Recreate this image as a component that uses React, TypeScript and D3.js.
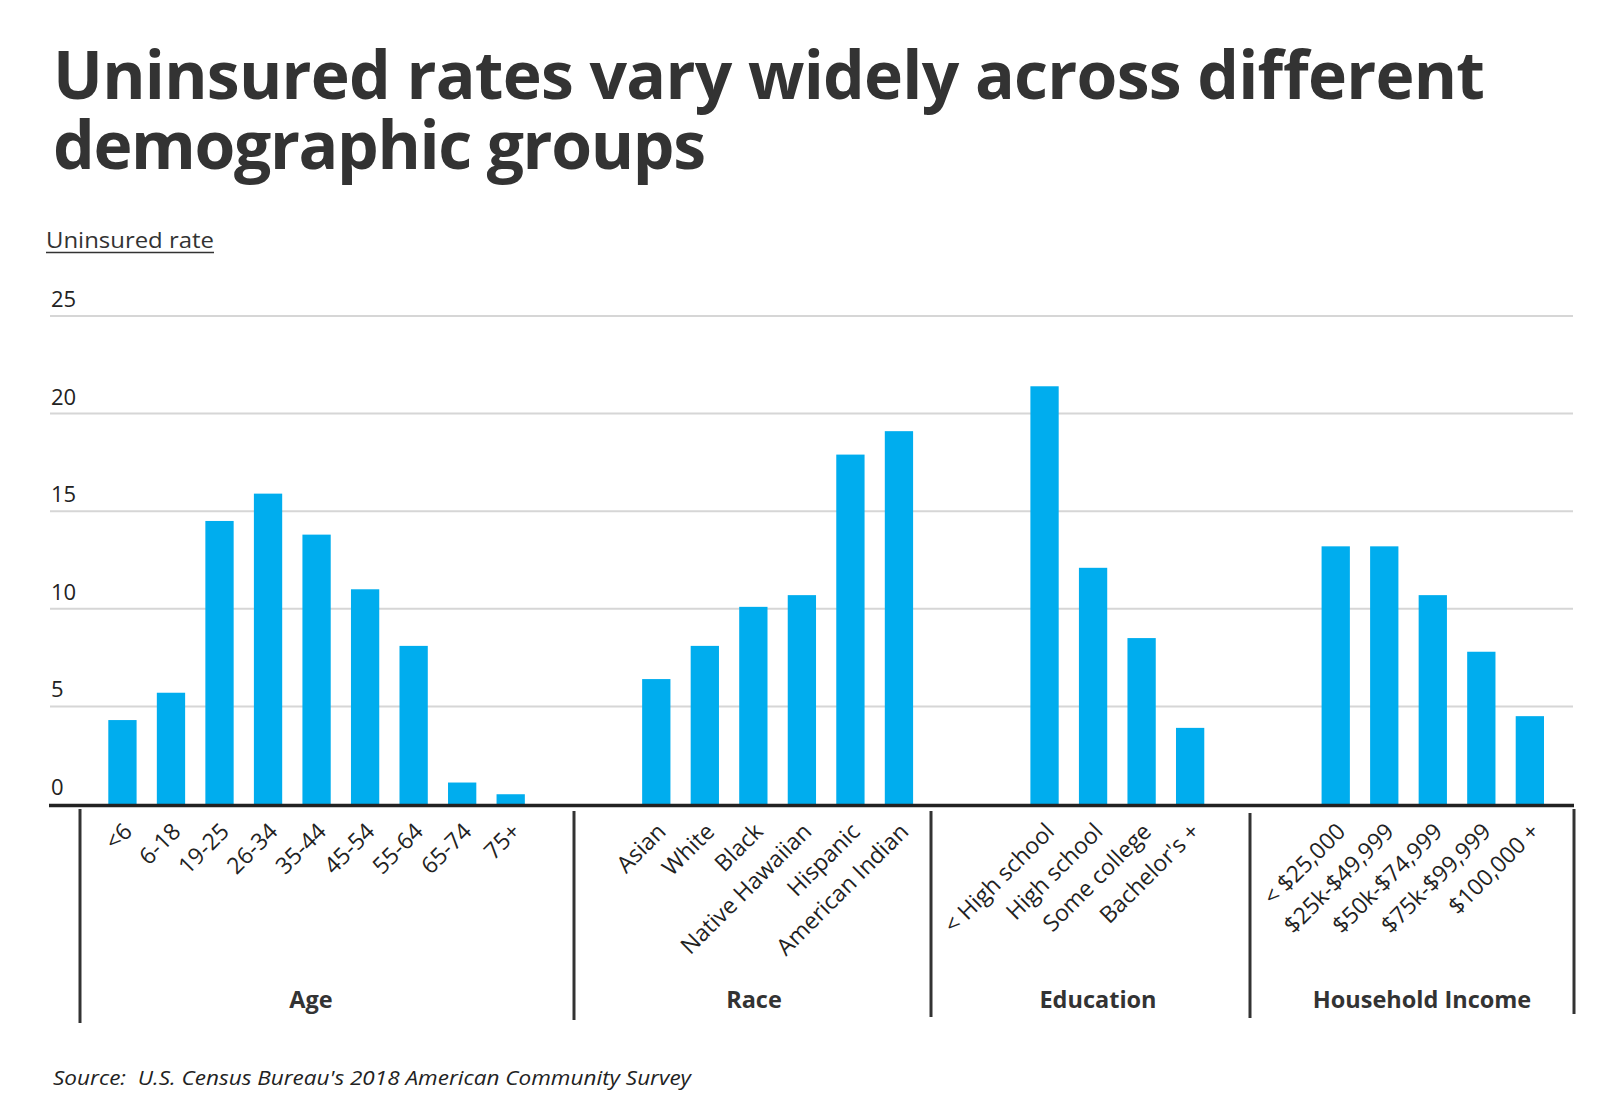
import React from "react";
import * as d3 from "d3";

// ---------- data ----------
const ageCats = ["<6", "6-18", "19-25", "26-34", "35-44", "45-54", "55-64", "65-74", "75+"];
const ageValues = [4.3, 5.7, 14.5, 15.9, 13.8, 11.0, 8.1, 1.1, 0.5];
const raceCats = ["Asian", "White", "Black", "Native Hawaiian", "Hispanic", "American Indian"];
const raceValues = [6.4, 8.1, 10.1, 10.7, 17.9, 19.1];
const eduCats = ["< High school", "High school", "Some college", "Bachelor's +"];
const eduValues = [21.4, 12.1, 8.5, 3.9];
const incomeCats = ["< $25,000", "$25k-$49,999", "$50k-$74,999", "$75k-$99,999", "$100,000 +"];
const incomeValues = [13.2, 13.2, 10.7, 7.8, 4.5];
const groupNames = ["Age", "Race", "Education", "Household Income"];
const yTicks = [0, 5, 10, 15, 20, 25];

const titleLines = ["Uninsured rates vary widely across different", "demographic groups"];
const yAxisTitle = "Uninsured rate";
const sourceText = "Source:  U.S. Census Bureau's 2018 American Community Survey";

// ---------- layout ----------
const W = 1600;
const H = 1117;
const BAR_COLOR = "#00ADEE";
const TEXT = "#333333";
const FONT = "'Open Sans', 'Noto Sans', sans-serif";
const GAP = 2; // empty slots between groups
const separatorX = [80, 574, 931, 1250, 1574];
const separatorY = [
  [809, 1023],
  [811, 1020],
  [811, 1017],
  [813, 1018],
  [809, 1014],
];
const groupLabelX = [311, 754, 1098, 1422];

type Bar = { key: string; label: string; value: number };

export default function App() {
  const groups = [
    { cats: ageCats, vals: ageValues },
    { cats: raceCats, vals: raceValues },
    { cats: eduCats, vals: eduValues },
    { cats: incomeCats, vals: incomeValues },
  ];
  const slots: string[] = [];
  const bars: Bar[] = [];
  groups.forEach((g, gi) => {
    if (gi > 0) for (let k = 0; k < GAP; k++) slots.push(`gap-${gi}-${k}`);
    g.cats.forEach((c, i) => {
      const key = `${gi}-${c}`;
      slots.push(key);
      bars.push({ key, label: c, value: g.vals[i] });
    });
  });

  const x = d3.scaleBand<string>().domain(slots).range([108.3, 1544]).paddingInner(0.417).paddingOuter(0);
  const y = d3.scaleLinear().domain([0, 25]).range([804, 316]);
  const bw = x.bandwidth();

  return (
    <div style={{ position: "absolute", left: 0, top: 0 }}>
      <svg width={W} height={H} viewBox={`0 0 ${W} ${H}`} style={{ display: "block", background: "#fff" }}>
        {/* title */}
        <text x={53} y={99} fontFamily={FONT} fontWeight={700} fontSize={66} fill={TEXT} textLength={1432} lengthAdjust="spacing">
          {titleLines[0]}
        </text>
        <text x={53} y={169} fontFamily={FONT} fontWeight={700} fontSize={66} fill={TEXT} textLength={653} lengthAdjust="spacing">
          {titleLines[1]}
        </text>

        {/* y axis title */}
        <text x={46} y={248} fontFamily={FONT} fontWeight={400} fontSize={22.5} fill={TEXT} textLength={168} lengthAdjust="spacingAndGlyphs">
          {yAxisTitle}
        </text>
        <line x1={46} x2={214} y1={252.5} y2={252.5} stroke={TEXT} strokeWidth={1.6} />

        {/* gridlines + tick labels */}
        {yTicks.map((t) => (
          <g key={t}>
            {t > 0 && <line x1={50} x2={1573} y1={y(t)} y2={y(t)} stroke="#d6d6d6" strokeWidth={2} />}
            <text x={51} y={y(t) - 9} fontFamily={FONT} fontSize={22} fill="#222">
              {t}
            </text>
          </g>
        ))}

        {/* bars */}
        {bars.map((b) => (
          <rect key={b.key} x={x(b.key)} y={y(b.value)} width={bw} height={y(0) - y(b.value)} fill={BAR_COLOR} />
        ))}

        {/* baseline */}
        <line x1={49} x2={1574} y1={y(0) + 1.5} y2={y(0) + 1.5} stroke="#222" strokeWidth={3.5} />

        {/* category labels */}
        {bars.map((b) => {
          const cx = (x(b.key) as number) + bw / 2 + 11;
          return (
            <text
              key={`l-${b.key}`}
              transform={`translate(${cx},833) rotate(-45)`}
              textAnchor="end"
              fontFamily={FONT}
              fontSize={23}
              fill="#222"
            >
              {b.label}
            </text>
          );
        })}

        {/* separators */}
        {separatorX.map((sx, i) => (
          <line key={`s-${i}`} x1={sx} x2={sx} y1={separatorY[i][0]} y2={separatorY[i][1]} stroke="#333" strokeWidth={3} />
        ))}

        {/* group labels */}
        {groupNames.map((g, i) => (
          <text key={g} x={groupLabelX[i]} y={1008} textAnchor="middle" fontFamily={FONT} fontWeight={700} fontSize={23.5} fill={TEXT}>
            {g}
          </text>
        ))}

        {/* source */}
        <text x={53} y={1085} fontFamily={FONT} fontStyle="italic" fontSize={20} fill="#222" textLength={638} lengthAdjust="spacingAndGlyphs" style={{ whiteSpace: "pre" }}>
          {sourceText}
        </text>
      </svg>
    </div>
  );
}
